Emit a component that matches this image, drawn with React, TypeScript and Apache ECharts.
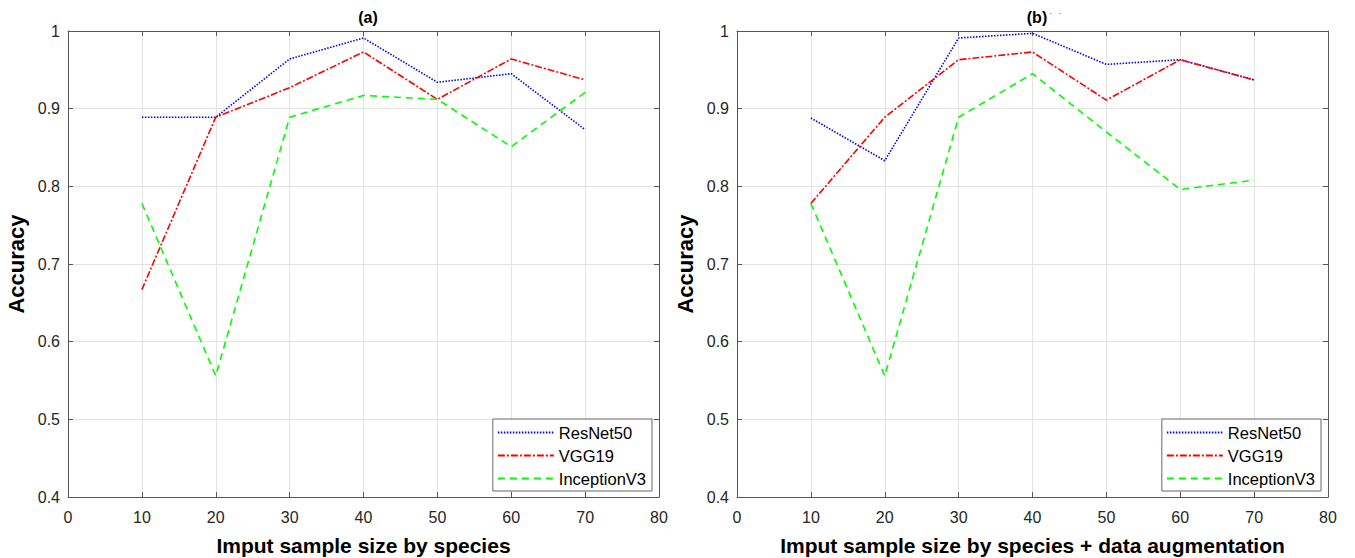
import React, { useEffect, useRef } from "react";
import * as echarts from "echarts";

const sampleSizes = [10, 20, 30, 40, 50, 60, 70];

const resnetA = [0.889, 0.889, 0.964, 0.991, 0.934, 0.945, 0.873];
const vggA = [0.667, 0.889, 0.927, 0.973, 0.912, 0.964, 0.937];
const inceptionA = [0.778, 0.556, 0.889, 0.917, 0.912, 0.851, 0.921];

const resnetB = [0.888, 0.833, 0.991, 0.997, 0.957, 0.963, 0.937];
const vggB = [0.778, 0.889, 0.963, 0.973, 0.911, 0.963, 0.937];
const inceptionB = [0.778, 0.556, 0.889, 0.945, 0.87, 0.796, 0.808];

const seriesNames = ["ResNet50", "VGG19", "InceptionV3"];
const titles = ["(a)", "(b)"];
const xNames = ["Imput sample size by species", "Imput sample size by species + data augmentation"];
const yName = "Accuracy";

const FONT = "Liberation Sans, Arial, sans-serif";
const TXT = "#262626";

export default function App() {
  const ref = useRef<HTMLDivElement>(null);
  useEffect(() => {
    document.body.style.margin = "0";
    if (!ref.current) return;
    const chart = echarts.init(ref.current, undefined, { renderer: "svg" });
    const grids = [
      { left: 68, right: 696, top: 31, bottom: 61, containLabel: false, outerBoundsMode: "none" },
      { left: 737, right: 27, top: 31, bottom: 61, containLabel: false, outerBoundsMode: "none" },
    ];
    const xAxes: any[] = [];
    const yAxes: any[] = [];
    grids.forEach((g, i) => {
      xAxes.push({
        type: "value", gridIndex: i, min: 0, max: 80, interval: 10, position: "bottom",
        name: xNames[i], nameLocation: "middle", nameGap: 38,
        nameTextStyle: { fontFamily: FONT, fontSize: 21, fontWeight: "bold", color: "#000" },
        axisLine: { show: true, onZero: false, lineStyle: { color: "#555", width: 1 } },
        axisTick: { show: true, inside: true, length: 5, lineStyle: { color: "#555" } },
        axisLabel: { fontFamily: FONT, fontSize: 16, color: TXT, margin: 12 },
        splitLine: { show: true, lineStyle: { color: "#e3e3e3", width: 1 } },
      });
      xAxes.push({
        type: "value", gridIndex: i, min: 0, max: 80, interval: 10, position: "top",
        axisLine: { show: true, onZero: false, lineStyle: { color: "#555", width: 1 } },
        axisTick: { show: true, inside: true, length: 5, lineStyle: { color: "#555" } },
        axisLabel: { show: false }, splitLine: { show: false },
      });
      yAxes.push({
        type: "value", gridIndex: i, min: 0.4, max: 1, interval: 0.1, position: "left",
        name: yName, nameLocation: "middle", nameGap: 41,
        nameTextStyle: { fontFamily: FONT, fontSize: 22, fontWeight: "bold", color: "#000" },
        axisLine: { show: true, onZero: false, lineStyle: { color: "#555", width: 1 } },
        axisTick: { show: true, inside: true, length: 5, lineStyle: { color: "#555" } },
        axisLabel: {
          fontFamily: FONT, fontSize: 16, color: TXT, margin: 8,
          formatter: (v: number) => String(Math.round(v * 10) / 10),
        },
        splitLine: { show: true, lineStyle: { color: "#e3e3e3", width: 1 } },
      });
      yAxes.push({
        type: "value", gridIndex: i, min: 0.4, max: 1, interval: 0.1, position: "right",
        axisLine: { show: true, onZero: false, lineStyle: { color: "#555", width: 1 } },
        axisTick: { show: true, inside: true, length: 5, lineStyle: { color: "#555" } },
        axisLabel: { show: false }, splitLine: { show: false },
      });
    });
    const data = [
      [resnetA, vggA, inceptionA],
      [resnetB, vggB, inceptionB],
    ];
    const styles = [
      { color: "#0000ff", type: [1.5, 1.5] as any, width: 1.6 },
      { color: "#ff0000", type: [7, 2, 2, 2] as any, width: 1.6 },
      { color: "#00ff00", type: [7, 5] as any, width: 1.6 },
    ];
    const series: any[] = [];
    data.forEach((set, gi) => {
      set.forEach((vals, si) => {
        series.push({
          type: "line", name: seriesNames[si], xAxisIndex: gi * 2, yAxisIndex: gi * 2,
          data: sampleSizes.map((x, k) => [x, vals[k]]),
          symbol: "none", lineStyle: { ...styles[si] }, itemStyle: { color: styles[si].color },
        });
      });
    });
    const legendCommon = {
      orient: "vertical", data: seriesNames, itemWidth: 56, itemHeight: 14, itemGap: 6,
      backgroundColor: "#fff", borderColor: "#666", borderWidth: 1, padding: [5, 6, 4, 4],
      textStyle: { fontFamily: FONT, fontSize: 16.5, color: "#000" },
      itemStyle: { opacity: 0 },
      selectedMode: false,
    };
    const titleStyle = { fontFamily: FONT, fontSize: 16, fontWeight: "bold", color: "#000" };
    chart.setOption({
      animation: false,
      backgroundColor: "#fff",
      title: [
        { text: titles[0], left: 363, top: 4, textAlign: "center", textStyle: titleStyle },
        { text: titles[1], left: 1032, top: 4, textAlign: "center", textStyle: titleStyle },
        { text: "·  ·", left: 1044, top: 3, textStyle: { fontFamily: FONT, fontSize: 10, color: "#777", fontWeight: "normal" } },
      ],
      grid: grids,
      xAxis: xAxes,
      yAxis: yAxes,
      legend: [
        { ...legendCommon, right: 703, bottom: 67 },
        { ...legendCommon, right: 34, bottom: 67 },
      ],
      series,
    });
    return () => chart.dispose();
  }, []);
  return <div ref={ref} style={{ width: 1355, height: 558 }} />;
}
